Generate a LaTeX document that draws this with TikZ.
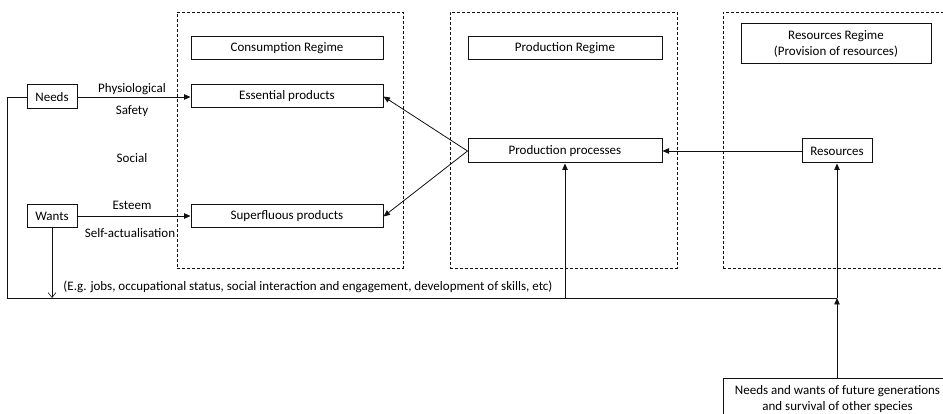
\documentclass[tikz,border=0pt]{standalone}
\usepackage{fontspec}
\setmainfont{Carlito}
\usepackage{xcolor}
\definecolor{cInk}{HTML}{111111}
\usepackage{tikz}
\usetikzlibrary{positioning,arrows.meta}
\tikzset{
  regime-frame/.style={draw=cInk,dash pattern=on 3pt off 2pt,line width=0.8pt},
  node-box/.style={draw=cInk,line width=1pt,minimum height=23pt,
    align=center,inner sep=2pt},
  arrow/.style={-{Triangle[length=6.5pt,width=5.5pt]},line width=0.8pt,draw=cInk},
  arrow-open/.style={-{Straight Barb[length=5pt,width=8pt]},line width=0.6pt,draw=cInk},
  link/.style={line width=0.8pt,draw=cInk},
}

\begin{document}
\begin{tikzpicture}[x=1pt,y=-1pt,font=\fontsize{13}{15.6}\selectfont]
  \clip (0,0) rectangle (943,414);
  % the three regimes
  \node[regime-frame,minimum width=226pt,minimum height=256pt] (consumption) at (290,140) {};
  \node[regime-frame,minimum width=227pt,minimum height=256pt] (production)  at (563.5,140) {};
  \node[regime-frame,minimum width=250pt,minimum height=256pt] (provision)   at (848,140) {};
  \node[node-box,minimum width=192pt] (consreg)     at (287,48.5)  {Consumption Regime};
  \node[node-box,minimum width=192pt] (essential)   at (287,96.5)  {Essential products};
  \node[node-box,minimum width=192pt] (superfluous) at (287,216.5) {Superfluous products};
  \node[node-box,minimum width=194pt] (prodreg)     at (565,48.5)  {Production Regime};
  \node[node-box,minimum width=194pt,minimum height=24pt] (processes) at (565,151) {Production processes};
  \node[node-box,minimum width=190pt,minimum height=40pt] (resreg) at (836,44) {Resources Regime\\(Provision of resources)};
  \node[node-box,minimum width=70pt,minimum height=24pt] (resources) at (837,151) {Resources};
  % human side
  \node[node-box,minimum width=50pt,minimum height=24pt] (needs) at (52,97)  {Needs};
  \node[node-box,minimum width=50pt] (wants) at (52,216) {Wants};
  \node (physio)  at (132,89)  {Physiological};
  \node (safety)  at (132,111) {Safety};
  \node (social)  at (132,158) {Social};
  \node (esteem)  at (132,205) {Esteem};
  \node (selfact) at (130,233) {Self-actualisation};
  \node (examples) at (308,287) {(E.g. jobs, occupational status, social interaction and engagement, development of skills, etc)};
  \node[node-box,anchor=north west,minimum width=228pt,inner ysep=7pt] (future) at (723,378)
    {Needs and wants of future generations\\and survival of other species};
  \coordinate (loop) at (resources.south |- 0,298);
  % connectors
  \draw[arrow] (needs.east) -- (needs.east -| essential.west);
  \draw[arrow] (wants.east) -- (wants.east -| superfluous.west);
  \draw[arrow] (processes.west) -- (essential.east);
  \draw[arrow] (processes.west) -- (superfluous.east);
  \draw[arrow] (resources.west) -- (processes.east);
  \draw[link] (needs.west) -- ++(-19,0) |- (loop);
  \draw[arrow-open] (wants.south) -- (wants.south |- loop);
  \draw[arrow] (processes.south |- loop) -- (processes.south);
  \draw[arrow] (future.north -| loop) -- (loop);
  \draw[arrow] (loop) -- (resources.south);
\end{tikzpicture}
\end{document}
